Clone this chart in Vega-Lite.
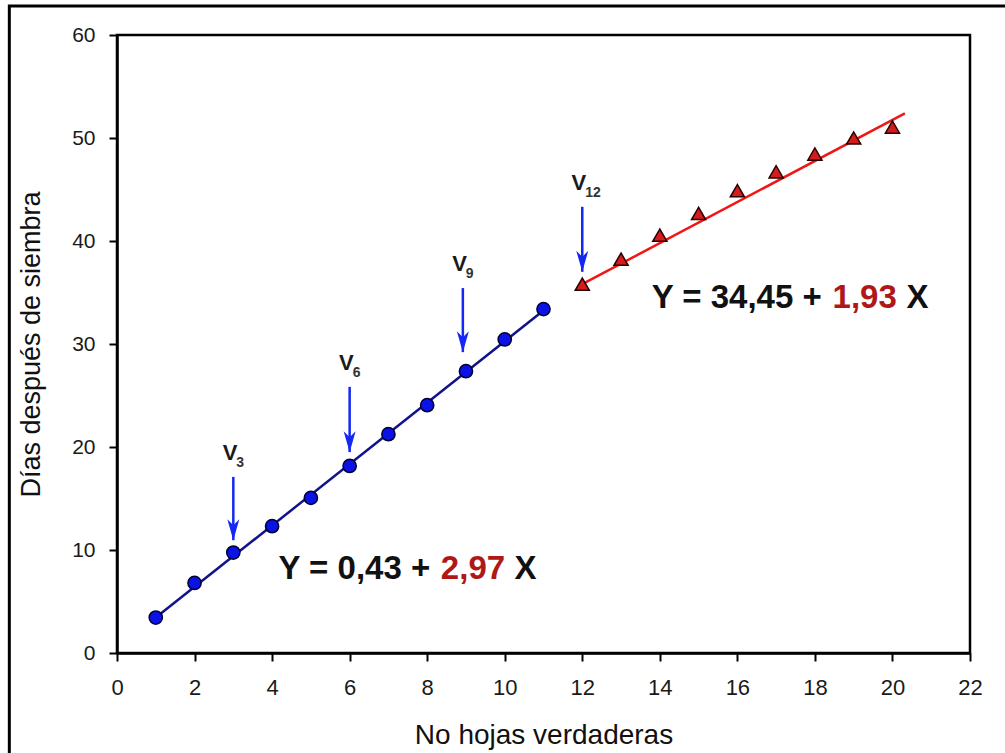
{
  "$schema": "https://vega.github.io/schema/vega-lite/v6.json",
  "width": 853,
  "height": 618,
  "autosize": {"type": "none"},
  "padding": {"left": 117, "top": 35, "right": 35, "bottom": 100},
  "background": "white",
  "config": {
    "view": {"stroke": "#000000", "strokeWidth": 2.5},
    "font": "Liberation Sans",
    "axis": {"grid": false, "domainColor": "#000000", "domainWidth": 2.5, "tickColor": "#000000", "tickWidth": 2, "tickSize": 8, "labelColor": "#1a1a1a", "titleColor": "#111111", "titleFontWeight": "normal", "labelFont": "Liberation Sans", "titleFont": "Liberation Sans"}
  },
  "datasets": {
    "marco": [{"x": -2.777, "x2": 23.8, "y": 62.82, "y2": -12}],
    "hojas": [
      {"grupo": "A", "x": 1, "y": 3.44},
      {"grupo": "A", "x": 2, "y": 6.80},
      {"grupo": "A", "x": 3, "y": 9.75},
      {"grupo": "A", "x": 4, "y": 12.31},
      {"grupo": "A", "x": 5, "y": 15.06},
      {"grupo": "A", "x": 6, "y": 18.16},
      {"grupo": "A", "x": 7, "y": 21.24},
      {"grupo": "A", "x": 8, "y": 24.06},
      {"grupo": "A", "x": 9, "y": 27.36},
      {"grupo": "A", "x": 10, "y": 30.44},
      {"grupo": "A", "x": 11, "y": 33.39},
      {"grupo": "B", "x": 12, "y": 35.81},
      {"grupo": "B", "x": 13, "y": 38.24},
      {"grupo": "B", "x": 14, "y": 40.57},
      {"grupo": "B", "x": 15, "y": 42.68},
      {"grupo": "B", "x": 16, "y": 44.88},
      {"grupo": "B", "x": 17, "y": 46.72},
      {"grupo": "B", "x": 18, "y": 48.44},
      {"grupo": "B", "x": 19, "y": 50.0},
      {"grupo": "B", "x": 20, "y": 51.06}
    ],
    "ajuste": [
      {"grupo": "A", "x": 1, "y": 3.44},
      {"grupo": "A", "x": 11, "y": 33.25},
      {"grupo": "B", "x": 12, "y": 35.81},
      {"grupo": "B", "x": 20.32, "y": 52.39}
    ],
    "flechas": [
      {"x": 3, "arriba": 17.1, "punta": 10.95, "v": "V", "sub": "3"},
      {"x": 6, "arriba": 25.84, "punta": 19.5, "v": "V", "sub": "6"},
      {"x": 8.92, "arriba": 35.43, "punta": 29.21, "v": "V", "sub": "9"},
      {"x": 12, "arriba": 43.32, "punta": 37.01, "v": "V", "sub": "12"}
    ],
    "ecuaciones": [
      {"parte": "a", "texto": "Y = 0,43 +", "x": 4.166, "y": 7.23},
      {"parte": "b", "texto": "2,97", "x": 8.353, "y": 7.23},
      {"parte": "c", "texto": "X", "x": 10.255, "y": 7.23},
      {"parte": "a", "texto": "Y = 34,45 +", "x": 13.79, "y": 33.45},
      {"parte": "b", "texto": "1,93", "x": 18.456, "y": 33.45},
      {"parte": "c", "texto": "X", "x": 20.36, "y": 33.45}
    ]
  },
  "encoding": {
    "x": {
      "field": "x", "type": "quantitative",
      "scale": {"domain": [0, 22], "nice": false, "zero": false},
      "axis": {"values": [0, 2, 4, 6, 8, 10, 12, 14, 16, 18, 20, 22], "labelFontSize": 22, "labelPadding": 16, "labelFlush": false, "labelOverlap": false, "title": "No hojas verdaderas", "titleFontSize": 28, "titleY": 90, "titleBaseline": "alphabetic"}
    },
    "y": {
      "field": "y", "type": "quantitative",
      "scale": {"domain": [0, 60], "nice": false, "zero": false},
      "axis": {"values": [0, 10, 20, 30, 40, 50, 60], "labelFontSize": 21, "labelPadding": 14, "labelFlush": false, "labelOverlap": false, "title": "Días después de siembra", "titleFontSize": 27, "titleX": -78, "titleBaseline": "alphabetic"}
    }
  },
  "layer": [
    {
      "data": {"name": "marco"},
      "mark": {"type": "rect", "fill": null, "fillOpacity": 0, "stroke": "#000000", "strokeWidth": 3, "clip": false},
      "encoding": {"x2": {"field": "x2"}, "y2": {"field": "y2"}}
    },
    {
      "data": {"name": "ajuste"},
      "transform": [{"filter": "datum.grupo == 'A'"}],
      "mark": {"type": "line", "color": "#12128a", "strokeWidth": 2.5}
    },
    {
      "data": {"name": "ajuste"},
      "transform": [{"filter": "datum.grupo == 'B'"}],
      "mark": {"type": "line", "color": "#f01616", "strokeWidth": 2.5}
    },
    {
      "data": {"name": "hojas"},
      "transform": [{"filter": "datum.grupo == 'A'"}],
      "mark": {"type": "point", "shape": "circle", "filled": true, "fill": "#0a12e6", "stroke": "#000033", "strokeWidth": 1.5, "size": 175, "opacity": 1}
    },
    {
      "data": {"name": "hojas"},
      "transform": [{"filter": "datum.grupo == 'B'"}],
      "mark": {"type": "point", "shape": "triangle-up", "filled": true, "fill": "#d41c1c", "stroke": "#2a0000", "strokeWidth": 1.5, "size": 200, "opacity": 1}
    },
    {
      "data": {"name": "flechas"},
      "mark": {"type": "rule", "color": "#1428f5", "strokeWidth": 2.5},
      "encoding": {"y": {"field": "arriba", "type": "quantitative"}, "y2": {"field": "punta"}}
    },
    {
      "data": {"name": "flechas"},
      "mark": {"type": "point", "shape": "M0,0 L-0.6,-2.1 L0,-1.5 L0.6,-2.1 Z", "filled": true, "fill": "#1428f5", "strokeWidth": 0, "size": 400, "opacity": 1},
      "encoding": {"y": {"field": "punta", "type": "quantitative"}}
    },
    {
      "data": {"name": "flechas"},
      "mark": {"type": "text", "fontSize": 22, "fontWeight": "bold", "color": "#1a1a1a", "align": "right", "baseline": "alphabetic", "dx": 4, "dy": -17},
      "encoding": {"y": {"field": "arriba", "type": "quantitative"}, "text": {"field": "v"}}
    },
    {
      "data": {"name": "flechas"},
      "mark": {"type": "text", "fontSize": 14, "fontWeight": "bold", "color": "#333333", "align": "left", "baseline": "alphabetic", "dx": 3, "dy": -10},
      "encoding": {"y": {"field": "arriba", "type": "quantitative"}, "text": {"field": "sub"}}
    },
    {
      "data": {"name": "ecuaciones"},
      "transform": [{"filter": "datum.parte != 'b'"}],
      "mark": {"type": "text", "fontSize": 33, "fontWeight": "bold", "color": "#111111", "align": "left", "baseline": "alphabetic"},
      "encoding": {"text": {"field": "texto"}}
    },
    {
      "data": {"name": "ecuaciones"},
      "transform": [{"filter": "datum.parte == 'b'"}],
      "mark": {"type": "text", "fontSize": 33, "fontWeight": "bold", "color": "#b01818", "align": "left", "baseline": "alphabetic"},
      "encoding": {"text": {"field": "texto"}}
    }
  ]
}
